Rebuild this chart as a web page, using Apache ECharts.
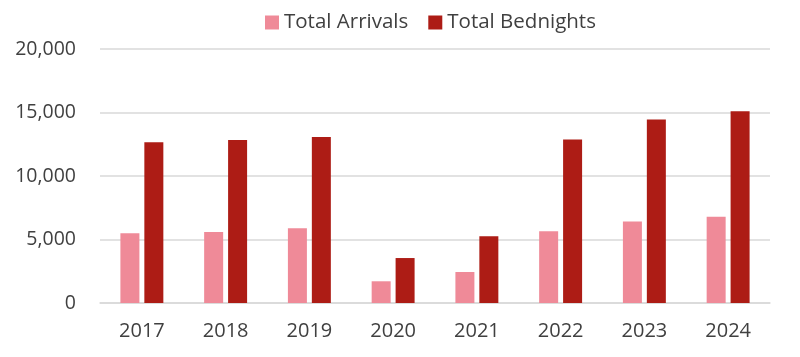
<!DOCTYPE html>
<html><head><meta charset="utf-8">
<script src="https://cdn.jsdelivr.net/npm/echarts@6/dist/echarts.min.js"></script>
<style>html,body{margin:0;padding:0;background:#fff}#c{width:800px;height:357px}</style>
</head><body><div id="c"></div>
<script>
const categories = ['2017','2018','2019','2020','2021','2022','2023','2024'];
const arrivals = [5490, 5590, 5880, 1710, 2440, 5640, 6410, 6800];
const bednights = [12650, 12830, 13070, 3540, 5250, 12870, 14440, 15090];
const seriesNames = ['Total Arrivals', 'Total Bednights'];
const font = '"Open Sans", "Noto Sans", sans-serif';
const chart = echarts.init(document.getElementById('c'), null, {renderer: 'canvas'});
chart.setOption({
  animation: false,
  textStyle: {fontFamily: font},
  legend: {
    top: 7, left: 260, itemWidth: 14, itemHeight: 14, itemGap: 20,
    icon: 'rect',
    textStyle: {fontSize: 20.5, color: '#404040', fontFamily: font},
    data: seriesNames
  },
  grid: {left: 100, right: 30, top: 49, bottom: 54, containLabel: false},
  xAxis: {
    type: 'category', data: categories,
    axisLine: {lineStyle: {color: '#D9D9D9', width: 1.5}},
    axisTick: {show: false},
    axisLabel: {fontSize: 20, color: '#404040', margin: 18, fontFamily: font}
  },
  yAxis: {
    type: 'value', min: 0, max: 20000, interval: 5000,
    axisLine: {show: false}, axisTick: {show: false},
    splitLine: {lineStyle: {color: '#D9D9D9', width: 1.5}},
    axisLabel: {fontSize: 19.5, color: '#404040', margin: 24, fontFamily: font,
      formatter: v => v.toLocaleString('en-US')}
  },
  series: [
    {name: seriesNames[0], type: 'bar', data: arrivals, barWidth: 19, barGap: '26%',
     itemStyle: {color: '#EF8A98'}},
    {name: seriesNames[1], type: 'bar', data: bednights, barWidth: 19,
     itemStyle: {color: '#AD1C15'}}
  ]
});
</script></body></html>
